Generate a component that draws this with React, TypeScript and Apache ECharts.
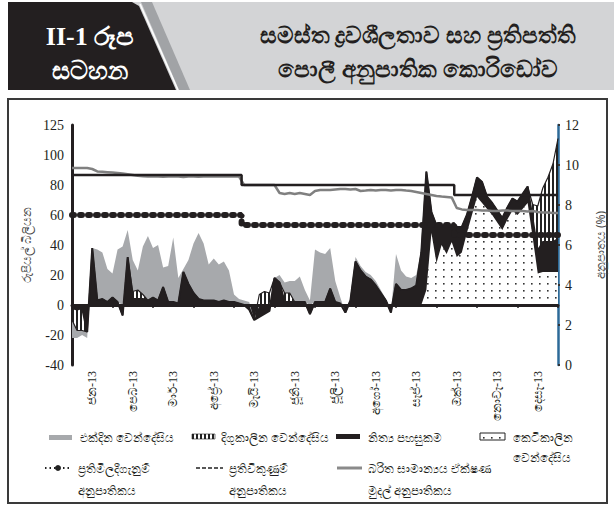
import React, { useEffect, useRef } from "react";
import * as echarts from "echarts";

// Month tick labels (x axis)
const MONTHS = ["ජන-13", "පෙබ-13", "මාර්-13", "අප්‍රේ-13", "මැයි-13", "ජූනි-13", "ජූලි-13", "අගෝ-13", "සැප්-13", "ඔක්-13", "නොවැ-13", "දෙසැ-13"];

// Rs. billion, sampled ~8 points per month (97 points, Jan 1 2013 .. Dec 31 2013)
const SHORT_TERM = [
  0, 0, 0, 0, 0, 0, 0, 0, 0, 0,
  0, 0, 0, 0, 0, 0, 0, 0, 0, 0,
  0, 0, 0, 0, 0, 0, 0, 0, 0, 0,
  0, 0, 0, 0, 0, 0, 0, 0, 0, 0,
  0, 0, 0, 0, 0, 0, 0, 0, 0, 0,
  0, 0, 0, 0, 0, 0, 0, 0, 0, 0,
  0, 0, 0, 0, 0, 0, 0, 0, 0, 0,
  10, 48, 28, 40, 34, 42, 32, 35, 48, 60,
  72, 68, 64, 60, 55, 50, 57, 63, 60, 64,
  68, 45, 21, 22, 22, 22, 22,
];
const STANDING = [
  -2, -3, -2, -18, 38, 3, 4, 2, 5, 2,
  -7, 32, 4, 4, 4, 3, 5, 3, 12, 2,
  2, 1, 22, 14, 8, 4, 3, 3, 3, 2,
  3, 2, 2, 1, 0, -3, -10, -8, -6, -4,
  18, 15, 2, 2, 2, 2, 2, -6, 2, 2,
  2, 11, 2, 1, -5, 3, 29, 23, 19, 17,
  13, 8, 3, -5, 14, 10, 10, 11, 13, 35,
  79, 14, 25, 13, 19, 11, 20, 17, 12, 12,
  13, 14, 8, 8, 8, 8, 8, 8, 9, 10,
  11, 12, 15, 20, 20, 20, 22,
];
const LONG_TERM = [
  -8, -14, -15, 0, 0, 0, 0, 0, 0, 0,
  0, 0, 5, 6, 3, 0, 0, 0, 0, 0,
  0, 0, 0, 0, 0, 0, 0, 0, 0, 0,
  0, 0, 0, 0, 0, 0, 0, 7, 9, 8,
  0, 0, 6, 6, 0, 0, 0, 0, 0, 0,
  0, 0, 0, 0, 0, 0, 0, 0, 0, 0,
  0, 0, 0, 0, 0, 0, 0, 0, 0, 0,
  0, 0, 0, 0, 0, 0, 0, 0, 0, 0,
  0, 0, 0, 0, 0, 0, 0, 0, 0, 0,
  0, 10, 30, 36, 43, 52, 67,
];
const OVERNIGHT = [
  -12, -5, -3, -4, 0, 34, 31, 22, 16, 35,
  39, 18, 21, 13, 32, 43, 33, 37, 13, 24,
  43, 17, 2, 16, 33, 44, 38, 24, 28, 25,
  26, 21, 5, 3, 3, 2, 0, 0, 0, 0,
  0, 5, 7, 8, 14, 17, 8, 3, 35, 33,
  32, 27, 14, 4, 0, 1, 3, 3, 3, 3,
  3, 2, 1, 0, 20, 13, 9, 7, 7, 2,
  0, 0, 0, 0, 0, 0, 0, 0, 0, 0,
  0, 0, 0, 0, 0, 0, 0, 0, 0, 0,
  0, 0, 0, 0, 0, 0, 0,
];

// Per cent (right axis)
const CALL_MONEY = [
  9.85, 9.85, 9.85, 9.85, 9.8, 9.68, 9.66, 9.64, 9.62, 9.6,
  9.57, 9.54, 9.5, 9.46, 9.44, 9.42, 9.42, 9.43, 9.41, 9.42,
  9.43, 9.42, 9.4, 9.42, 9.43, 9.41, 9.42, 9.42, 9.43, 9.42,
  9.42, 9.43, 9.42, 9.42, 9.0, 9.0, 9.0, 9.0, 9.0, 9.0,
  9.0, 8.6, 8.55, 8.6, 8.55, 8.6, 8.55, 8.5, 8.7, 8.75,
  8.75, 8.75, 8.78, 8.8, 8.8, 8.78, 8.8, 8.7, 8.72, 8.75,
  8.72, 8.75, 8.75, 8.72, 8.75, 8.75, 8.72, 8.7, 8.65, 8.6,
  8.55, 8.5, 8.45, 8.42, 8.4, 8.38, 7.85, 7.78, 7.75, 7.75,
  7.75, 7.72, 7.72, 7.7, 7.7, 7.72, 7.72, 7.7, 7.7, 7.7,
  7.68, 7.7, 7.65, 7.62, 7.62, 7.6, 7.6,
];
const REVERSE_REPO = [
  9.5, 9.5, 9.5, 9.5, 9.5, 9.5, 9.5, 9.5, 9.5, 9.5,
  9.5, 9.5, 9.5, 9.5, 9.5, 9.5, 9.5, 9.5, 9.5, 9.5,
  9.5, 9.5, 9.5, 9.5, 9.5, 9.5, 9.5, 9.5, 9.5, 9.5,
  9.5, 9.5, 9.5, 9.5, 9.0, 9.0, 9.0, 9.0, 9.0, 9.0,
  9.0, 9.0, 9.0, 9.0, 9.0, 9.0, 9.0, 9.0, 9.0, 9.0,
  9.0, 9.0, 9.0, 9.0, 9.0, 9.0, 9.0, 9.0, 9.0, 9.0,
  9.0, 9.0, 9.0, 9.0, 9.0, 9.0, 9.0, 9.0, 9.0, 9.0,
  9.0, 9.0, 9.0, 9.0, 9.0, 9.0, 8.5, 8.5, 8.5, 8.5,
  8.5, 8.5, 8.5, 8.5, 8.5, 8.5, 8.5, 8.5, 8.5, 8.5,
  8.5, 8.5, 8.5, 8.5, 8.5, 8.5, 8.5,
];
const REPO = [
  7.5, 7.5, 7.5, 7.5, 7.5, 7.5, 7.5, 7.5, 7.5, 7.5,
  7.5, 7.5, 7.5, 7.5, 7.5, 7.5, 7.5, 7.5, 7.5, 7.5,
  7.5, 7.5, 7.5, 7.5, 7.5, 7.5, 7.5, 7.5, 7.5, 7.5,
  7.5, 7.5, 7.5, 7.5, 7.0, 7.0, 7.0, 7.0, 7.0, 7.0,
  7.0, 7.0, 7.0, 7.0, 7.0, 7.0, 7.0, 7.0, 7.0, 7.0,
  7.0, 7.0, 7.0, 7.0, 7.0, 7.0, 7.0, 7.0, 7.0, 7.0,
  7.0, 7.0, 7.0, 7.0, 7.0, 7.0, 7.0, 7.0, 7.0, 7.0,
  7.0, 7.0, 7.0, 7.0, 7.0, 7.0, 6.5, 6.5, 6.5, 6.5,
  6.5, 6.5, 6.5, 6.5, 6.5, 6.5, 6.5, 6.5, 6.5, 6.5,
  6.5, 6.5, 6.5, 6.5, 6.5, 6.5, 6.5,
];

const POSITIONS = SHORT_TERM.map((_, i) => "p" + i);

const INK = "#231f20";
const SERIF = "'Liberation Serif', 'DejaVu Serif', serif";
const SANS = "'Noto Sans', 'DejaVu Sans', sans-serif";

function makeDots(): HTMLCanvasElement {
  const c = document.createElement("canvas");
  c.width = 8;
  c.height = 7;
  const g = c.getContext("2d")!;
  g.fillStyle = "#ffffff";
  g.fillRect(0, 0, 8, 7);
  g.fillStyle = "#333333";
  g.fillRect(3, 3, 1.6, 1.6);
  return c;
}
function makeHatch(): HTMLCanvasElement {
  const c = document.createElement("canvas");
  c.width = 4;
  c.height = 4;
  const g = c.getContext("2d")!;
  g.fillStyle = "#ffffff";
  g.fillRect(0, 0, 4, 4);
  g.fillStyle = "#222222";
  g.fillRect(0, 0, 2, 4);
  return c;
}

export default function App() {
  const ref = useRef<HTMLDivElement>(null);
  useEffect(() => {
    document.body.style.margin = "0";
    if (!ref.current) return;
    const chart = echarts.init(ref.current, undefined, { renderer: "svg" });
    const dots = { image: makeDots(), repeat: "repeat", imageWidth: 8, imageHeight: 7 } as any;
    const hatch = { image: makeHatch(), repeat: "repeat", imageWidth: 4, imageHeight: 4 } as any;

    const txt = (text: string, x: number, y: number, size = 12, extra: any = {}) => ({
      type: "text",
      silent: true,
      style: {
        text, x, y, fill: INK, fontSize: size, fontFamily: SANS,
        align: "left", verticalAlign: "middle", textAlign: "left", textVerticalAlign: "middle",
        ...extra,
      },
    });

    const area = { type: "line", stack: "liq", symbol: "none", showSymbol: false, xAxisIndex: 0, yAxisIndex: 0, z: 2 };

    chart.setOption({
      animation: false,
      grid: { left: 72, right: 48, top: 125, bottom: 143, containLabel: false },
      xAxis: [
        {
          type: "category", data: POSITIONS, boundaryGap: false, z: 3,
          axisLine: { onZero: true, lineStyle: { color: INK, width: 3 } },
          axisTick: { show: true, interval: (i: number) => i % 8 === 0, length: 3, lineStyle: { color: INK, width: 1.5 } },
          axisLabel: { show: false }, splitLine: { show: false },
        },
        {
          type: "category", data: MONTHS, boundaryGap: true, position: "bottom",
          axisLine: { show: false, onZero: false }, axisTick: { show: false }, splitLine: { show: false },
          axisLabel: { rotate: 90, fontSize: 12, color: INK, margin: 6, fontFamily: SERIF, interval: 0 },
        },
      ],
      yAxis: [
        {
          type: "value", min: -40, max: 120, interval: 20, position: "left",
          axisLine: { show: true, lineStyle: { color: INK, width: 3 } },
          axisTick: { show: false }, splitLine: { show: false },
          axisLabel: { formatter: (v: number) => (v === 120 ? "125" : String(v)), fontSize: 14, color: INK, fontFamily: SERIF, margin: 8 },
          name: "රුපියල් බිලියන", nameLocation: "middle", nameGap: 40,
          nameTextStyle: { fontSize: 12, color: "#4d4d4d", fontFamily: SANS },
        },
        {
          type: "value", min: 0, max: 12, interval: 2, position: "right",
          axisLine: { show: true, lineStyle: { color: "#2d6a98", width: 2.5 } },
          axisTick: { show: true, length: 2, lineStyle: { color: "#333", width: 2 } },
          splitLine: { show: false },
          axisLabel: { fontSize: 14, color: INK, fontFamily: SERIF, margin: 7 },
          name: "අනුපාතය (%)", nameLocation: "middle", nameGap: 36, nameRotate: 90,
          nameTextStyle: { fontSize: 12, color: "#4d4d4d", fontFamily: SANS },
        },
      ],
      series: [
        { ...area, name: "කෙටිකාලීන වෙන්දේසිය", data: SHORT_TERM, lineStyle: { width: 0 }, areaStyle: { color: dots, opacity: 1 } },
        { ...area, name: "නිත්‍ය පහසුකම", data: STANDING, lineStyle: { color: INK, width: 2 }, areaStyle: { color: INK, opacity: 1 } },
        { ...area, name: "දිගුකාලීන වෙන්දේසිය", data: LONG_TERM, lineStyle: { color: INK, width: 1.2 }, areaStyle: { color: hatch, opacity: 1 } },
        { ...area, name: "එක්දින වෙන්දේසිය", data: OVERNIGHT, lineStyle: { width: 0 }, areaStyle: { color: "#a7a9ac", opacity: 1 } },
        {
          type: "line", name: "බරිත සාමාන්‍යය ඒක්ෂණ මුදල් අනුපාතිකය", xAxisIndex: 0, yAxisIndex: 1, data: CALL_MONEY,
          symbol: "none", showSymbol: false, z: 5, lineStyle: { color: "#808080", width: 2.5 },
        },
        {
          type: "line", name: "ප්‍රතිවිකුණුම් අනුපාතිකය", xAxisIndex: 0, yAxisIndex: 1, data: REVERSE_REPO, step: "middle",
          symbol: "none", showSymbol: false, z: 6, lineStyle: { color: INK, width: 2.5 },
        },
        {
          type: "line", name: "ප්‍රතිමිලදීගැනුම් අනුපාතිකය", xAxisIndex: 0, yAxisIndex: 1, data: REPO, step: "middle",
          symbol: "none", showSymbol: false, z: 6, lineStyle: { color: INK, width: 6, type: [2, 6], cap: "round" },
        },
      ],
      graphic: [
        // header
        { type: "rect", silent: true, shape: { x: 8, y: 2, width: 606, height: 88 }, style: { fill: "#d3d4d6" } },
        { type: "polygon", silent: true, shape: { points: [[141, 2], [152, 2], [190, 90], [179, 90]] }, style: { fill: "#a1a3a6" } },
        { type: "polygon", silent: true, shape: { points: [[8, 2], [132, 2], [139, 6], [176, 90], [8, 90]] }, style: { fill: INK } },
        { type: "line", silent: true, shape: { x1: 140, y1: 4, x2: 178, y2: 90 }, style: { stroke: "#ffffff", lineWidth: 1.5 } },
        txt("II-1 රූප", 90, 36, 26, { fill: "#ffffff", fontWeight: "bold", fontFamily: SERIF, align: "center", textAlign: "center" }),
        txt("සටහන", 90, 69, 25, { fill: "#ffffff", fontWeight: "bold", align: "center", textAlign: "center" }),
        txt("සමස්ත ද්‍රවශීලතාව සහ ප්‍රතිපත්ති", 418, 34, 23, { fontWeight: "bold", align: "center", textAlign: "center" }),
        txt("පොලී අනුපාතික කොරිඩෝව", 418, 68, 23, { fontWeight: "bold", align: "center", textAlign: "center" }),
        // frame
        { type: "rect", silent: true, shape: { x: 8, y: 99, width: 599, height: 404 }, style: { fill: "none", stroke: "#3a3a3a", lineWidth: 2 } },
        // legend row 1
        { type: "rect", silent: true, shape: { x: 49, y: 435, width: 23, height: 5 }, style: { fill: "#a7a9ac" } },
        txt("එක්දින වෙන්දේසිය", 80, 437),
        { type: "rect", silent: true, shape: { x: 192, y: 434, width: 23, height: 5 }, style: { fill: hatch, stroke: "#222", lineWidth: 0.6 } },
        txt("දිගුකාලීන වෙන්දේසිය", 221, 437),
        { type: "rect", silent: true, shape: { x: 336, y: 434, width: 24, height: 5 }, style: { fill: INK } },
        txt("නිත්‍ය පහසුකම", 368, 437),
        { type: "rect", silent: true, shape: { x: 480, y: 433, width: 25, height: 7 }, style: { fill: dots, stroke: "#222", lineWidth: 1 } },
        txt("කෙටිකාලීන", 513, 437),
        txt("වෙන්දේසිය", 513, 457),
        // legend row 2
        { type: "line", silent: true, shape: { x1: 45, y1: 468, x2: 72, y2: 468 }, style: { stroke: "#222", lineWidth: 2, lineDash: [1.5, 3] } },
        { type: "circle", silent: true, shape: { cx: 58, cy: 468, r: 3 }, style: { fill: "#222" } },
        txt("ප්‍රතිමිලදීගැනුම්", 78, 468),
        txt("අනුපාතිකය", 78, 490),
        { type: "line", silent: true, shape: { x1: 196, y1: 468, x2: 223, y2: 468 }, style: { stroke: "#222", lineWidth: 1.5, lineDash: [4, 2] } },
        txt("ප්‍රතිවිකුණුම්", 229, 468),
        txt("අනුපාතිකය", 229, 490),
        { type: "line", silent: true, shape: { x1: 337, y1: 468, x2: 362, y2: 468 }, style: { stroke: "#8a8a8a", lineWidth: 3 } },
        txt("බරිත සාමාන්‍යය ඒක්ෂණ", 368, 468),
        txt("මුදල් අනුපාතිකය", 368, 490),
      ],
    });
    return () => chart.dispose();
  }, []);
  return <div ref={ref} style={{ width: 614, height: 508 }} />;
}
